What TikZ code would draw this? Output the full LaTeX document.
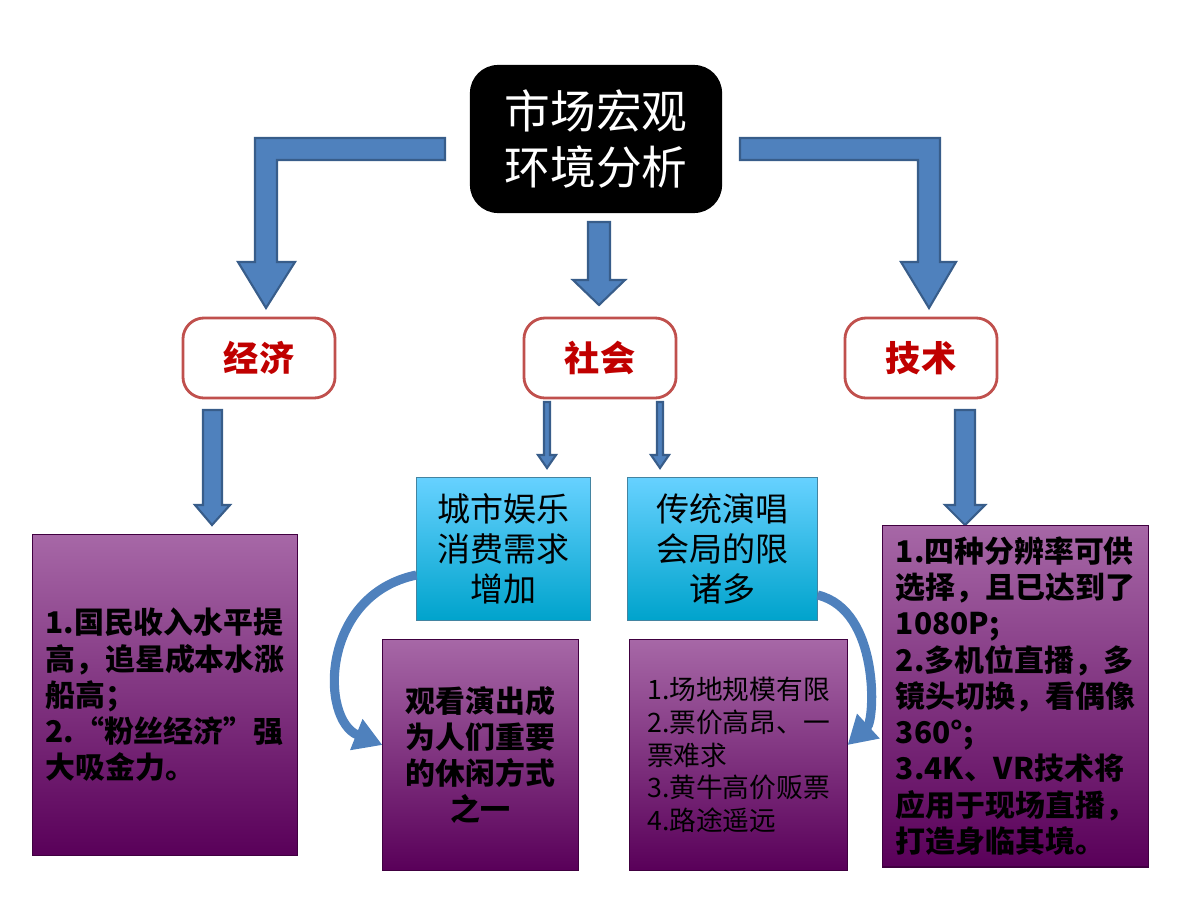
\documentclass[tikz,border=0pt]{standalone}
\usepackage{fontspec}
\setmainfont{Noto Sans CJK SC}
\usetikzlibrary{arrows.meta}
\definecolor{arrowblue}{HTML}{4F81BD}
\definecolor{arrowedge}{HTML}{385D8A}
\definecolor{boxred}{HTML}{C0504D}
\definecolor{textred}{HTML}{C00000}
\tikzset{
  blockarrow/.style={fill=arrowblue,draw=arrowedge,line width=0.6pt},
  factor/.style={draw=boxred,fill=white,rounded corners=6pt,line width=0.8pt,
    minimum width=1.52cm,minimum height=0.80cm,text=textred,
    font=\fontsize{10}{12}\selectfont\bfseries},
  cyanbox/.style={top color=cyan!70!blue!60,bottom color=cyan!80!blue!80!black,
    draw=cyan!60!black,line width=0.3pt,minimum height=1.42cm,align=center,
    font=\fontsize{9.4}{11.4}\selectfont},
  purplebox/.style={top color=violet!55!white!90!black,bottom color=violet!70!black,
    draw=violet!50!black,line width=0.3pt,align=left},
}
\begin{document}
\begin{tikzpicture}[x=0.01cm,y=-0.01cm]
\useasboundingbox (0,0) rectangle (1200,900);
% title
\node[fill=black,rounded corners=8pt,minimum width=2.52cm,minimum height=1.48cm,
  text=white,align=left,font=\fontsize{13}{16}\selectfont] (title) at (596,139)
  {市场宏观\\环境分析};
% elbow arrows
\filldraw[blockarrow] (445,138) -- (255,138) -- (255,262) -- (238,262) -- (266,308)
  -- (295,262) -- (277,262) -- (277,160) -- (445,160) -- cycle;
\filldraw[blockarrow] (740,138) -- (940,138) -- (940,262) -- (956,262) -- (929,308)
  -- (901,262) -- (918,262) -- (918,160) -- (740,160) -- cycle;
\filldraw[blockarrow] (588,222) -- (610,222) -- (610,280) -- (625,280) -- (599,305)
  -- (573,280) -- (588,280) -- cycle;
% factors
\node[factor] (econ) at (259,358) {经济};
\node[factor] (soc) at (600,358) {社会};
\node[factor] (tech) at (921,358) {技术};
% down arrows
\filldraw[blockarrow] (203,410) -- (222,410) -- (222,505) -- (230,505) -- (212,525)
  -- (195,505) -- (203,505) -- cycle;
\filldraw[blockarrow] (955,410) -- (975,410) -- (975,505) -- (985,505) -- (965,525)
  -- (945,505) -- (955,505) -- cycle;
\filldraw[blockarrow] (544,402) -- (550,402) -- (550,455) -- (556,455) -- (547,468)
  -- (538,455) -- (544,455) -- cycle;
\filldraw[blockarrow] (657,402) -- (663,402) -- (663,455) -- (669,455) -- (660,468)
  -- (651,455) -- (657,455) -- cycle;
% social detail boxes
\node[cyanbox,minimum width=1.73cm] (city) at (503.5,549) {城市娱乐\\消费需求\\增加};
\node[cyanbox,minimum width=1.89cm] (concert) at (722.5,549) {传统演唱\\会局的限\\诸多};
\node[purplebox,minimum width=2.64cm,minimum height=3.20cm,
  font=\fontsize{8.5}{10.3}\selectfont\bfseries] (econtext) at (165,695)
  {1.国民收入水平提\\高，追星成本水涨\\船高；\\2.“粉丝经济”强\\大吸金力。};
\node[purplebox,minimum width=1.95cm,minimum height=2.30cm,align=center,
  font=\fontsize{8.5}{10.3}\selectfont\bfseries] (leisure) at (480.5,755)
  {观看演出成\\为人们重要\\的休闲方式\\之一};
\node[purplebox,minimum width=2.17cm,minimum height=2.30cm,
  font=\fontsize{7.6}{9.3}\selectfont] (limits) at (738.5,755)
  {1.场地规模有限\\2.票价高昂、一\\票难求\\3.黄牛高价贩票\\4.路途遥远};
\node[purplebox,minimum width=2.65cm,minimum height=3.22cm,
  font=\fontsize{8.5}{10.3}\selectfont\bfseries] (techtext) at (1015.5,696)
  {1.四种分辨率可供\\选择，且已达到了\\1080P;\\2.多机位直播，多\\镜头切换，看偶像\\360°;\\3.4K、VR技术将\\应用于现场直播，\\打造身临其境。};
% curved arrows
\draw[arrowblue,line width=2.6pt,-{Triangle[width=9pt,length=8pt]}]
  (city.west |- 0,575) .. controls (320,595) and (320,720) .. (leisure.west |- 0,745);
\draw[arrowblue,line width=2.6pt,-{Triangle[width=9pt,length=8pt]}]
  (concert.east |- 0,595) .. controls (880,610) and (875,720) .. (limits.east |- 0,745);
\end{tikzpicture}
\end{document}
